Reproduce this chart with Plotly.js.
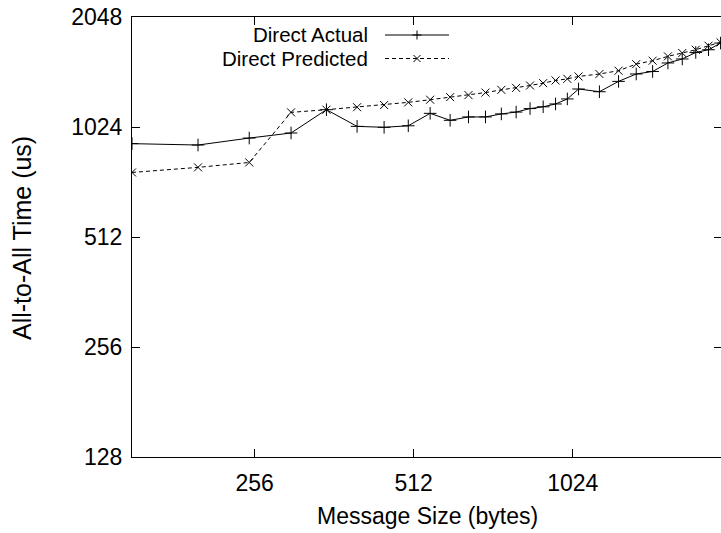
<!DOCTYPE html>
<html>
<head>
<meta charset="utf-8">
<script src="https://cdn.plot.ly/plotly-3.0.1.min.js"></script>
<style>
html,body{margin:0;padding:0;overflow:hidden;background:#fff;}
#chart{width:724px;height:533px;}
</style>
</head>
<body>
<div id="chart"></div>
<script>
// Message sizes (bytes)
const messageSize = [150,200,250,300,350,400,450,500,550,600,650,700,750,800,850,900,950,1000,1050,1150,1250,1350,1450,1550,1650,1750,1850,1950];
// All-to-All time (us)
const directActual = [922,914,955,986,1142,1028,1022,1032,1116,1068,1091,1091,1112,1125,1150,1163,1184,1222,1301,1279,1365,1430,1453,1533,1572,1638,1666,1738];
const directPredicted = [769,794,819,1123,1142,1160,1176,1196,1216,1236,1252,1272,1294,1310,1330,1350,1373,1387,1408,1430,1460,1522,1555,1598,1632,1666,1709,1745];
const xTicks = [256,512,1024,2048];
const yTicks = [128,256,512,1024,2048];
const seriesNames = ['Direct Actual','Direct Predicted'];
const xTitle = 'Message Size (bytes)';
const yTitle = 'All-to-All Time (us)';

const FONT = 'Liberation Sans, Arial, Helvetica, sans-serif';
const TICK_FS = 23;

const traces = [
  {x: messageSize, y: directActual, name: seriesNames[0], mode: 'lines+markers',
   line: {color: '#000', width: 1},
   marker: {symbol: 'cross-thin-open', size: 9, color: '#000', line: {width: 1, color: '#000'}},
   showlegend: false},
  {x: messageSize, y: directPredicted, name: seriesNames[1], mode: 'lines+markers',
   line: {color: '#000', width: 1, dash: '4px,3px'},
   marker: {symbol: 'x-thin-open', size: 8, color: '#000', line: {width: 1, color: '#000'}},
   showlegend: false}
];

// plot area in pixels: x 132..722, y 17..457
function px2paperX(px){ return (px - 132) / 590; }
function px2paperY(py){ return 1 - (py - 17) / 440; }

// Manual gnuplot-style legend (text on the left, sample on the right)
const legendRows = [35, 58.5];
const shapes = [];
const annotations = [];
legendRows.forEach((py, i) => {
  annotations.push({xref: 'paper', yref: 'paper', x: px2paperX(369), y: px2paperY(py),
    xanchor: 'right', yanchor: 'middle', showarrow: false, text: seriesNames[i],
    borderpad: 0,
    font: {family: FONT, size: 20.5, color: '#000'}});
  shapes.push({type: 'line', xref: 'paper', yref: 'paper', x0: px2paperX(385), x1: px2paperX(449),
    y0: px2paperY(py), y1: px2paperY(py),
    line: {color: '#000', width: 1, dash: i === 0 ? 'solid' : '4px,3px'}});
  const cx = 417, s = i === 0 ? 4.5 : 3.5;
  const p = i === 0
    ? `M${px2paperX(cx - s)},${px2paperY(py)} L${px2paperX(cx + s)},${px2paperY(py)} M${px2paperX(cx)},${px2paperY(py - s)} L${px2paperX(cx)},${px2paperY(py + s)}`
    : `M${px2paperX(cx - s)},${px2paperY(py - s)} L${px2paperX(cx + s)},${px2paperY(py + s)} M${px2paperX(cx - s)},${px2paperY(py + s)} L${px2paperX(cx + s)},${px2paperY(py - s)}`;
  shapes.push({type: 'path', xref: 'paper', yref: 'paper', path: p, line: {color: '#000', width: 1}});
});

// Axis titles
annotations.push({xref: 'paper', yref: 'paper', x: px2paperX(427), y: px2paperY(516),
  xanchor: 'center', yanchor: 'middle', showarrow: false, text: xTitle,
  font: {family: FONT, size: 23, color: '#000'}});
annotations.push({xref: 'paper', yref: 'paper', x: px2paperX(22), y: px2paperY(238),
  xanchor: 'center', yanchor: 'middle', showarrow: false, text: yTitle, textangle: -90,
  font: {family: FONT, size: 25, color: '#000'}});

const layout = {
  width: 724, height: 533,
  margin: {l: 132, r: 2, t: 17, b: 76},
  paper_bgcolor: '#fff', plot_bgcolor: '#fff',
  font: {family: FONT, size: TICK_FS, color: '#000'},
  showlegend: false,
  xaxis: {
    type: 'log', range: [Math.log10(150), Math.log10(1962)],
    tickmode: 'array', tickvals: xTicks, ticktext: xTicks.map(String),
    ticks: 'inside', ticklen: 8, tickwidth: 1, tickcolor: '#000',
    showline: true, linecolor: '#000', linewidth: 1, mirror: 'allticks',
    showgrid: false, zeroline: false, ticklabelstandoff: 5,
    tickfont: {family: FONT, size: TICK_FS, color: '#000'}
  },
  yaxis: {
    type: 'log', range: [Math.log10(128), Math.log10(2048)],
    tickmode: 'array', tickvals: yTicks, ticktext: yTicks.map(String),
    ticks: 'inside', ticklen: 8, tickwidth: 1, tickcolor: '#000',
    showline: true, linecolor: '#000', linewidth: 1, mirror: 'allticks',
    showgrid: false, zeroline: false, ticklabelstandoff: 4,
    tickfont: {family: FONT, size: TICK_FS, color: '#000'}
  },
  shapes: shapes,
  annotations: annotations
};

Plotly.newPlot('chart', traces, layout, {displayModeBar: false, staticPlot: true});
</script>
</body>
</html>
